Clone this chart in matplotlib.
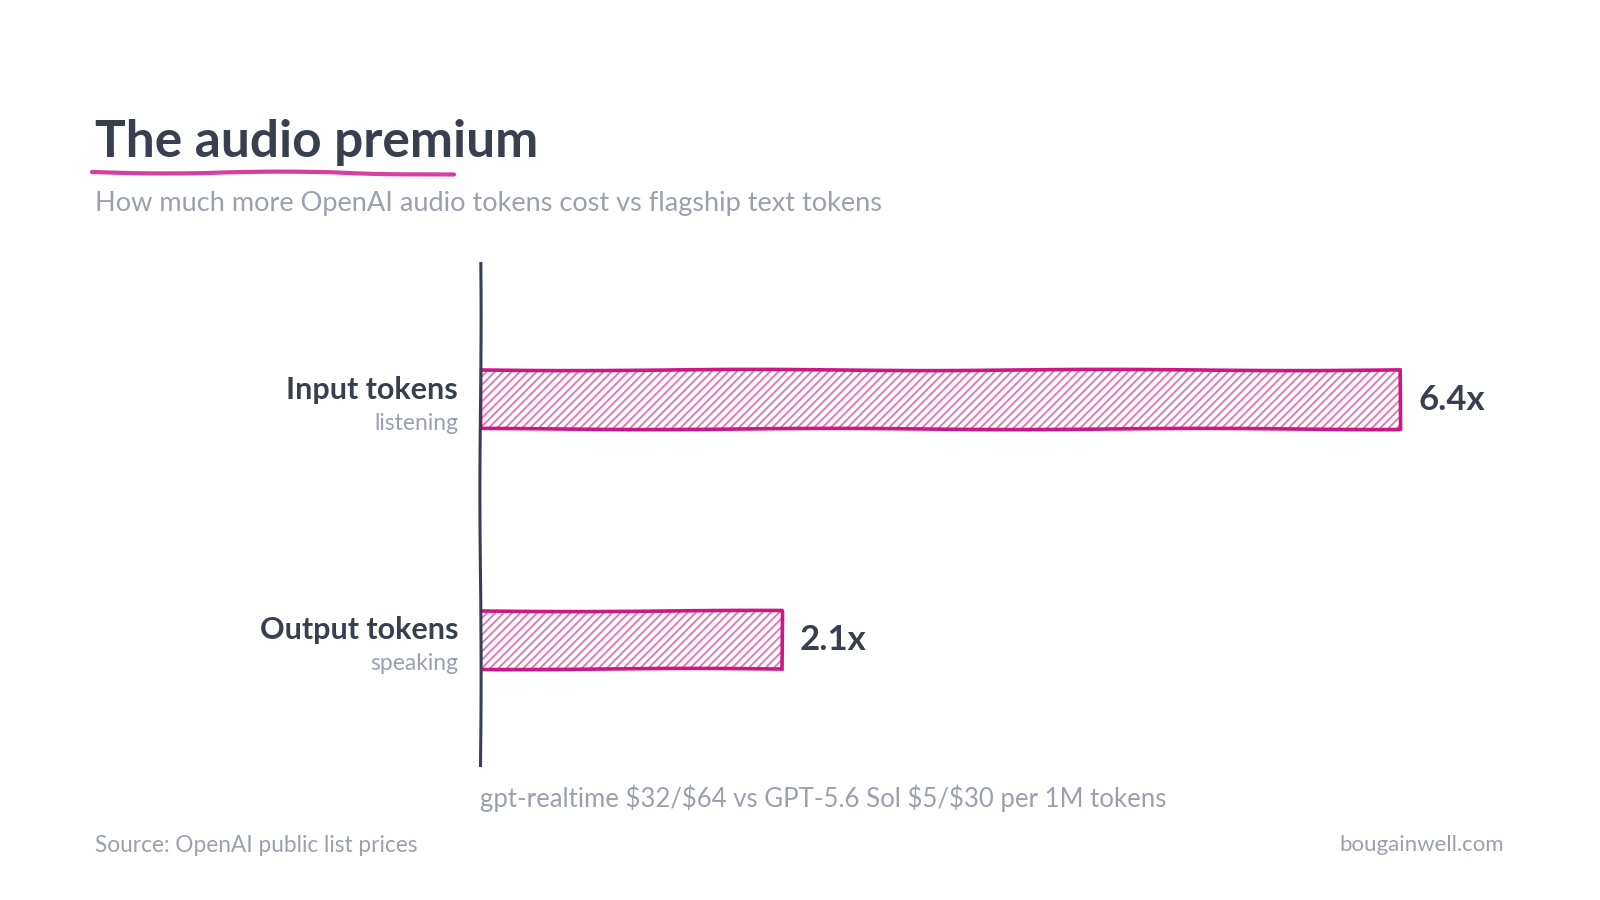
import matplotlib.pyplot as plt
import matplotlib.transforms as mtransforms
from matplotlib.lines import Line2D

plt.rcParams['font.family'] = ['Lato', 'DejaVu Sans']
plt.rcParams['hatch.linewidth'] = 1.4

categories = ["Input tokens", "Output tokens"]
subtitles = ["listening", "speaking"]
multiples = [6.4, 2.1]
value_labels = ["6.4x", "2.1x"]

dark = "#383f4f"
gray = "#9aa1ad"
pink = "#cc1785"
pink_light = "#e27ab6"

fig = plt.figure(figsize=(16, 9), dpi=100)
fig.patch.set_facecolor("white")

# plot area: zero line at x=480px, 6.4 lands near x=1400px
ax = fig.add_axes([0.30, 0.15, 0.6219, 0.5578])
ypos = list(range(len(categories)))

fill = ax.barh(ypos, multiples, height=0.245, color="none",
               edgecolor=pink_light, linewidth=0, hatch="////")
outline = ax.barh(ypos, multiples, height=0.245, color="none",
                  edgecolor=pink, linewidth=2.6)
for b in outline:
    b.set_sketch_params(0.6, 400, 2)
for b in fill:
    b.set_sketch_params(0.4, 200, 2)

ax.set_xlim(0, 6.92)
ax.set_ylim(1.52, -0.568)
for s in ["top", "right", "bottom"]:
    ax.spines[s].set_visible(False)
ax.spines["left"].set_color(dark)
ax.spines["left"].set_linewidth(2.2)
ax.spines["left"].set_sketch_params(0.6, 400, 2)
ax.set_xticks([])
ax.set_yticks([])

trans = mtransforms.blended_transform_factory(fig.transFigure, ax.transData)
for i, (cat, sub) in enumerate(zip(categories, subtitles)):
    ax.annotate(cat, xy=(458 / 1600, i), xycoords=trans, xytext=(0, 7),
                textcoords="offset points", ha="right", va="center",
                fontsize=22, fontweight="bold", color=dark)
    ax.annotate(sub, xy=(458 / 1600, i), xycoords=trans, xytext=(0, -17),
                textcoords="offset points", ha="right", va="center",
                fontsize=16.5, color=gray)

for i, (v, lab) in enumerate(zip(multiples, value_labels)):
    ax.annotate(lab, xy=(v, i), xytext=(13, 0), textcoords="offset points",
                ha="left", va="center", fontsize=25, fontweight="bold",
                color=dark)

fig.text(95 / 1600, 1 - 142 / 900, "The audio premium", fontsize=37,
         fontweight="bold", color=dark, va="center", ha="left")
under = Line2D([92 / 1600, 200 / 1600, 330 / 1600, 454 / 1600],
               [1 - 172 / 900, 1 - 173 / 900, 1 - 172 / 900, 1 - 175 / 900],
               transform=fig.transFigure, color="#d63fa0", linewidth=3,
               solid_capstyle="round")
under.set_sketch_params(0.8, 250, 2)
fig.add_artist(under)

fig.text(95 / 1600, 1 - 204 / 900,
         "How much more OpenAI audio tokens cost vs flagship text tokens",
         fontsize=19.5, color=gray, va="center", ha="left")

fig.text(480 / 1600, 1 - 798 / 900,
         r"gpt-realtime \$32/\$64 vs GPT-5.6 Sol \$5/\$30 per 1M tokens",
         fontsize=18.5, color=gray, va="center", ha="left")
fig.text(95 / 1600, 1 - 845 / 900, "Source: OpenAI public list prices",
         fontsize=16.3, color=gray, va="center", ha="left")
fig.text(1504 / 1600, 1 - 845 / 900, "bougainwell.com",
         fontsize=16, color=gray, va="center", ha="right")

fig.savefig("out.png", dpi=100, facecolor="white")
